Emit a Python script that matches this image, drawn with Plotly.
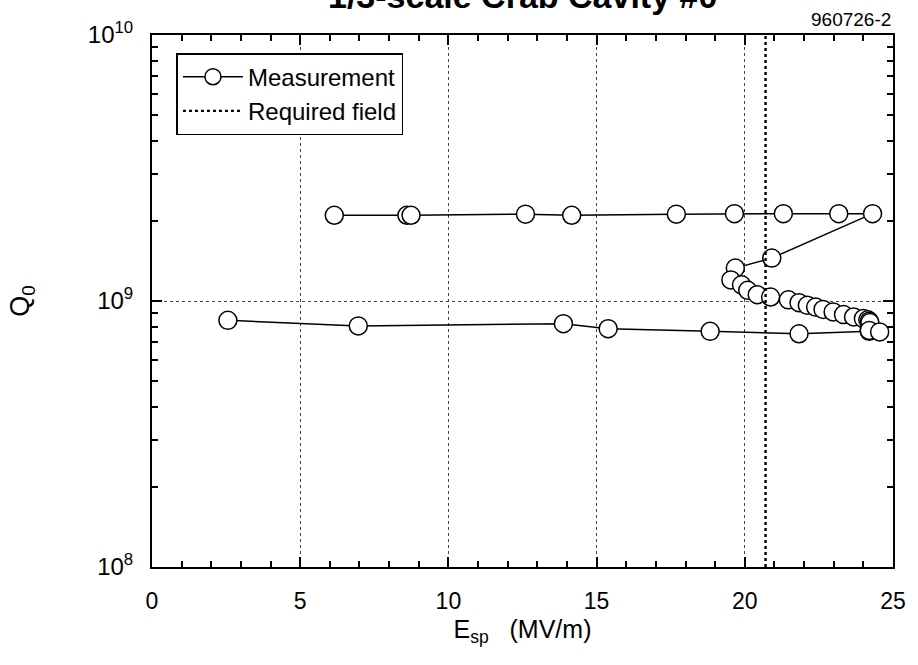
import plotly.graph_objects as go

# ---- data ----
lower_E = [2.56, 6.96, 13.88, 15.39, 18.83, 21.83, 24.2]
lower_Q = [0.846e9, 0.806e9, 0.822e9, 0.787e9, 0.769e9, 0.753e9, 0.769e9]

upper_E = [6.15, 8.6, 8.74, 12.6, 14.16, 17.69, 19.65, 21.3, 23.17, 24.31,
           20.91, 19.68, 19.53, 19.89, 20.1, 20.42, 20.87, 21.47, 21.83, 22.11,
           22.39, 22.64, 22.98, 23.33, 23.67, 24.0, 24.15, 24.2, 24.22, 24.2, 24.55]
upper_Q = [2.1e9, 2.1e9, 2.1e9, 2.12e9, 2.1e9, 2.12e9, 2.13e9, 2.13e9, 2.13e9, 2.13e9,
           1.45e9, 1.33e9, 1.2e9, 1.15e9, 1.097e9, 1.056e9, 1.035e9, 1.01e9, 0.986e9, 0.963e9,
           0.949e9, 0.93e9, 0.91e9, 0.889e9, 0.871e9, 0.859e9, 0.85e9, 0.84e9, 0.83e9, 0.775e9, 0.765e9]

required_E = [20.7, 20.7]
required_Q = [1e8, 1e10]

y_tickvals = [1e8, 1e9, 1e10]
y_ticktext = ["10<sup>8</sup>", "10<sup>9</sup>", "10<sup>10</sup>"]
y_minor = [k * 10 ** p for p in (8, 9) for k in range(2, 10)]
x_tickvals = [0, 5, 10, 15, 20, 25]

FONT = "Liberation Sans, Arial, Helvetica, sans-serif"

marker = dict(symbol="circle", size=18, color="white", line=dict(color="black", width=1.5))

fig = go.Figure()
fig.add_trace(go.Scatter(x=lower_E, y=lower_Q, mode="lines+markers", name="Measurement",
                         legendgroup="m", line=dict(color="black", width=1.5), marker=marker))
fig.add_trace(go.Scatter(x=upper_E, y=upper_Q, mode="lines+markers", name="Measurement",
                         legendgroup="m", showlegend=False,
                         line=dict(color="black", width=1.5), marker=marker))
fig.add_trace(go.Scatter(x=required_E, y=required_Q, mode="lines", name="Required field",
                         line=dict(color="black", width=2.4, dash="dot")))

fig.update_layout(
    width=918, height=665,
    margin=dict(l=152, r=17, t=35, b=98),
    paper_bgcolor="white", plot_bgcolor="white",
    font=dict(family=FONT, size=23, color="black"),
    showlegend=True,
    legend=dict(x=0.033, y=0.966, xanchor="left", yanchor="top",
                bordercolor="black", borderwidth=1.5, bgcolor="white",
                font=dict(size=24), tracegroupgap=0, itemwidth=60),
    annotations=[
        dict(text="<b>1/3-scale Crab Cavity #0</b>", xref="paper", yref="paper",
             x=0.5, y=1.033, xanchor="center", yanchor="bottom", showarrow=False,
             font=dict(size=34, family=FONT)),
        dict(text="960726-2", xref="paper", yref="paper", x=1.0, y=1.005,
             xanchor="right", yanchor="bottom", showarrow=False, font=dict(size=19, family=FONT)),
    ],
)

fig.update_xaxes(
    range=[0, 25], tickmode="array", tickvals=x_tickvals,
    ticks="inside", ticklen=10, tickwidth=1.5, tickcolor="black",
    showline=True, linecolor="black", linewidth=2, mirror="allticks",
    showgrid=True, gridcolor="#444", gridwidth=1, griddash="dot",
    zeroline=False, ticklabelstandoff=12, tickfont=dict(size=23),
    minor=dict(dtick=1, tick0=0, ticks="inside", ticklen=6, tickwidth=1.5,
               tickcolor="black", showgrid=False),
    title=dict(text="E<sub>sp</sub>   (MV/m)", font=dict(size=25), standoff=8),
)
fig.update_yaxes(
    type="log", range=[8, 10], tickmode="array", tickvals=y_tickvals, ticktext=y_ticktext,
    ticks="inside", ticklen=10, tickwidth=1.5, tickcolor="black",
    showline=True, linecolor="black", linewidth=2, mirror="allticks",
    showgrid=True, gridcolor="#444", gridwidth=1, griddash="dot",
    zeroline=False, ticklabelstandoff=12, tickfont=dict(size=24),
    minor=dict(tickmode="array", tickvals=y_minor, ticks="inside", ticklen=6, tickwidth=1.5,
               tickcolor="black", showgrid=False),
    title=dict(text="Q<sub>0</sub>", font=dict(size=27), standoff=50),
)

fig.write_html("out.html")
